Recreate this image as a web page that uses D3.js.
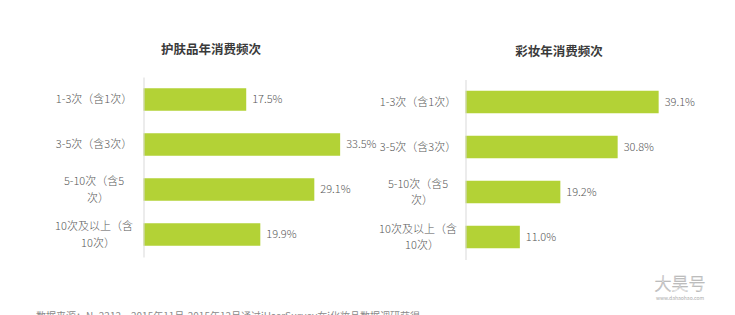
<!DOCTYPE html>
<html>
<head>
<meta charset="utf-8">
<script src="https://cdn.jsdelivr.net/npm/d3@7"></script>
<style>
  html, body { margin: 0; padding: 0; background: #fff; overflow: hidden; }
  svg { display: block; font-family: "Noto Sans CJK SC", "Noto Sans", sans-serif; }
  .title { font-size: 12.5px; font-weight: 700; fill: #3a3a3a; }
  .cat { font-size: 11px; font-weight: 300; fill: #595959; }
  .val { font-size: 11px; font-weight: 300; fill: #595959; }
  .source { font-size: 10px; fill: #8a8a8a; }
</style>
</head>
<body>
<svg id="chart"></svg>
<script>
// ─── Data ─────────────────────────────────────────────────────────────────────
const categories = ["1-3次（含1次）", "3-5次（含3次）", "5-10次（含5次）", "10次及以上（含10次）"];
// Label lines as wrapped in the reference.
const categoryLines = [
  ["1-3次（含1次）"],
  ["3-5次（含3次）"],
  ["5-10次（含5", "次）"],
  ["10次及以上（含", "10次）"]
];
const skincareValues = [17.5, 33.5, 29.1, 19.9];
const makeupValues   = [39.1, 30.8, 19.2, 11.0];
const chartTitles    = ["护肤品年消费频次", "彩妆年消费频次"];
const sourceNote     = "数据来源：N=2212，2015年11月-2015年12月通过iUserSurvey在i化妆品数据调研获得";

// ─── Configuration ────────────────────────────────────────────────────────────
const W = 735, H = 315;
const BAR_COLOR  = "#b3d236";
const AXIS_COLOR = "#d9d9d9";

const panels = [
  { title: chartTitles[0], values: skincareValues, axisX: 143.5, top: 77,   pxPerUnit: 5.87, titleX: 211, titleY: 54, labelX: 94 },
  { title: chartTitles[1], values: makeupValues,   axisX: 465.5, top: 79.5, pxPerUnit: 4.94, titleX: 559, titleY: 56, labelX: 418 }
];

const svg = d3.select("#chart").attr("width", W).attr("height", H);

// ─── Panels ───────────────────────────────────────────────────────────────────
panels.forEach(p => {
  const g = svg.append("g").attr("transform", `translate(${p.axisX},0)`);

  const y = d3.scaleBand()
    .domain(categories)
    .range([p.top, p.top + 180])
    .paddingInner(0.5)
    .paddingOuter(0.25);

  const x = d3.scaleLinear().domain([0, 40]).range([0, 40 * p.pxPerUnit]);

  // Title
  svg.append("text")
    .attr("class", "title")
    .attr("x", p.titleX)
    .attr("y", p.titleY)
    .attr("text-anchor", "middle")
    .text(p.title);

  // Bars
  g.selectAll("rect.bar")
    .data(p.values)
    .join("rect")
    .attr("class", "bar")
    .attr("x", 0)
    .attr("y", (d, i) => y(categories[i]))
    .attr("width", d => x(d))
    .attr("height", y.bandwidth())
    .attr("fill", BAR_COLOR);

  // Value labels
  g.selectAll("text.val")
    .data(p.values)
    .join("text")
    .attr("class", "val")
    .attr("x", d => x(d) + 6)
    .attr("y", (d, i) => y(categories[i]) + y.bandwidth() / 2)
    .attr("dy", "0.35em")
    .text(d => d.toFixed(1) + "%");

  // Vertical axis line
  g.append("g")
    .call(d3.axisLeft(y).tickSize(0).tickFormat(""))
    .call(a => a.select(".domain").attr("stroke", AXIS_COLOR).attr("stroke-width", 1));

  // Category labels (centered, wrapped)
  const labels = svg.selectAll(null)
    .data(categoryLines)
    .join("text")
    .attr("class", "cat")
    .attr("text-anchor", "middle");

  labels.each(function (lines, i) {
    const cy = y(categories[i]) + y.bandwidth() / 2;
    const lh = 16.6;
    const start = cy - (lines.length - 1) * lh / 2;
    d3.select(this).selectAll("tspan")
      .data(lines)
      .join("tspan")
      .attr("x", j => p.labelX)
      .attr("dx", (d, j) => j > 0 ? 4 : 0)
      .attr("y", (d, j) => start + j * lh)
      .attr("dy", "0.35em")
      .text(d => d);
  });
});

// ─── Source note (cut off at the bottom edge, as in the reference) ───────────
svg.append("text")
  .attr("class", "source")
  .attr("x", 36)
  .attr("y", 320)
  .text(sourceNote);

// ─── Watermark ────────────────────────────────────────────────────────────────
svg.append("text")
  .attr("x", 680)
  .attr("y", 290)
  .attr("text-anchor", "middle")
  .attr("font-family", "'Noto Sans CJK SC', serif")
  .attr("font-size", 17)
  .attr("font-weight", 300)
  .attr("fill", "#ffffff")
  .attr("stroke", "#b0b0b0")
  .attr("stroke-width", 0.5)
  .text("大昊号");

svg.append("text")
  .attr("x", 680)
  .attr("y", 300)
  .attr("text-anchor", "middle")
  .attr("font-size", 5)
  .attr("fill", "#a8a8a8")
  .text("www.dahaohao.com");
</script>
</body>
</html>
